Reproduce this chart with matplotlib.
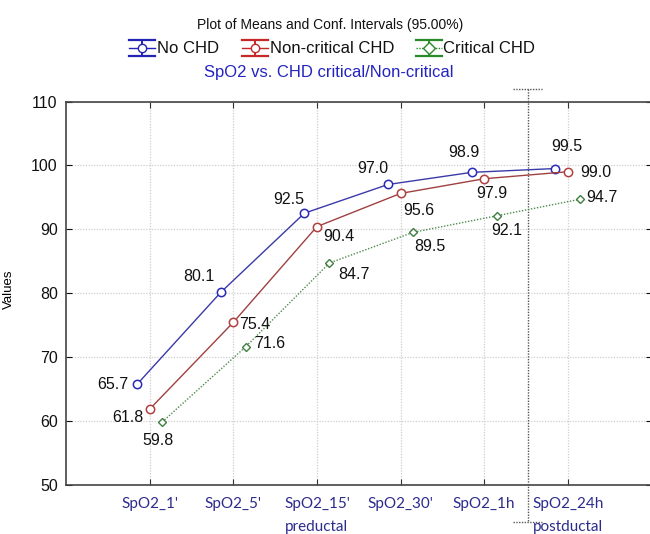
import matplotlib
matplotlib.use("Agg")
import matplotlib.pyplot as plt
import numpy as np

# Data
categories = ["SpO2_1'", "SpO2_5'", "SpO2_15'\npreductal", "SpO2_30'", "SpO2_1h", "SpO2_24h\npostductal"]
no_chd = [65.7, 80.1, 92.5, 97.0, 98.9, 99.5]
non_critical = [61.8, 75.4, 90.4, 95.6, 97.9, 99.0]
critical = [59.8, 71.6, 84.7, 89.5, 92.1, 94.7]
series_names = ["No CHD", "Non-critical CHD", "Critical CHD"]

# label offsets (pixels) for the value annotations
off_blue = [(-24, 0), (-22, 16), (-16, 14), (-15, 16), (-8, 20), (12, 22)]
off_red = [(-22, -8), (21, -2), (22, -10), (18, -17), (8, -15), (28, -1)]
off_green = [(-4, -19), (24, 3), (24, -12), (17, -14), (10, -15), (21, 2)]

plt.rcParams['font.family'] = ['Liberation Sans', 'DejaVu Sans']

fig = plt.figure(figsize=(6.5, 5.34), dpi=100)
ax = fig.add_axes([66 / 650, 49.5 / 534, 585.5 / 650, 383 / 534])

x = np.arange(len(categories))
line_blue = '#3a3aa8'
line_red = '#a04040'
line_green = '#4f8a4f'

ax.plot(x - 0.15, no_chd, color=line_blue, lw=1.0, marker='o', ms=6,
        mfc='white', mec='#2a2ab8', mew=1.1, zorder=4)
ax.plot(x, non_critical, color=line_red, lw=1.0, marker='o', ms=6,
        mfc='white', mec='#b04040', mew=1.1, zorder=4)
ax.plot(x + 0.15, critical, color=line_green, lw=1.0, ls=(0, (1, 1.2)),
        marker='D', ms=4.2, mfc='white', mec='#3f7f3f', mew=1.0, zorder=4)

for xs, vals, offs in [(x - 0.15, no_chd, off_blue), (x, non_critical, off_red),
                       (x + 0.15, critical, off_green)]:
    for xi, v, o in zip(xs, vals, offs):
        ax.annotate(f"{v:.1f}", (xi, v), xytext=o, textcoords='offset pixels',
                    ha='center', va='center', fontsize=11.5, color='#111111')

# pre/post ductal separator
sep_x = 4.52
ax.plot([sep_x, sep_x], [112, 44.2], color='#555555', lw=1.0, ls=(0, (1, 1)),
        clip_on=False, zorder=3)
for yy in [112, 44.2]:
    ax.plot([sep_x - 0.17, sep_x + 0.17], [yy, yy], color='#555555', lw=1.0,
            ls=(0, (1, 1)), clip_on=False, zorder=3)

ax.set_xlim(-1, 6)
ax.set_ylim(50, 110)
ax.set_yticks(np.arange(50, 111, 10))
ax.set_xticks(x)
ax.set_xticklabels(categories, family=['Lato', 'DejaVu Sans'], fontsize=11,
                   color='#2b2b8c', linespacing=1.85)
ax.tick_params(axis='y', labelsize=11.5, colors='#111111', direction='in', length=4,
               right=True, pad=6)
ax.tick_params(axis='x', direction='in', length=4, top=True, pad=9, color='#333333')
ax.grid(True, color='#cfcfcf', ls=(0, (1, 1.2)), lw=0.9)
for s in ax.spines.values():
    s.set_color('#444444')
    s.set_linewidth(1.2)
ax.set_ylabel("Values", fontsize=9.5, labelpad=14)
ax.yaxis.set_label_coords(-(66 - 15) / 585.5, (484.5 - 289) / 383)

# header: title, legend, subtitle
ov = fig.add_axes([0, 0, 1, 1], zorder=10)
ov.set_xlim(0, 650)
ov.set_ylim(534, 0)
ov.axis('off')
ov.text(330, 25, "Plot of Means and Conf. Intervals (95.00%)", ha='center',
        va='center', fontsize=10, color='#111111')
ov.text(329, 73, "SpO2 vs. CHD critical/Non-critical", ha='center', va='center',
        fontsize=12, color='#2323c0')

leg_colors = ['#2424b4', '#c42828', '#2a8a2a']
leg_cx = [141.5, 255, 428.5]
leg_tx = [157, 270, 443]
for name, c, cx, tx in zip(series_names, leg_colors, leg_cx, leg_tx):
    ls = (0, (1, 1)) if name == "Critical CHD" else '-'
    ov.plot([cx - 13, cx + 13], [39.5, 39.5], color=c, lw=1.6)
    ov.plot([cx - 13, cx + 13], [56, 56], color=c, lw=1.6)
    ov.plot([cx, cx], [39.5, 56], color=c, lw=1.4)
    ov.plot([cx - 13, cx + 13], [48, 48], color=c, lw=1.0, ls=ls)
    ov.plot([cx], [48], marker='D' if name == "Critical CHD" else 'o', ms=6,
            mfc='white', mec=c, mew=1.0)
    ov.text(tx, 48.5, name, ha='left', va='center', fontsize=12, color='#111111')

fig.savefig("out.png", dpi=100, facecolor='white')
